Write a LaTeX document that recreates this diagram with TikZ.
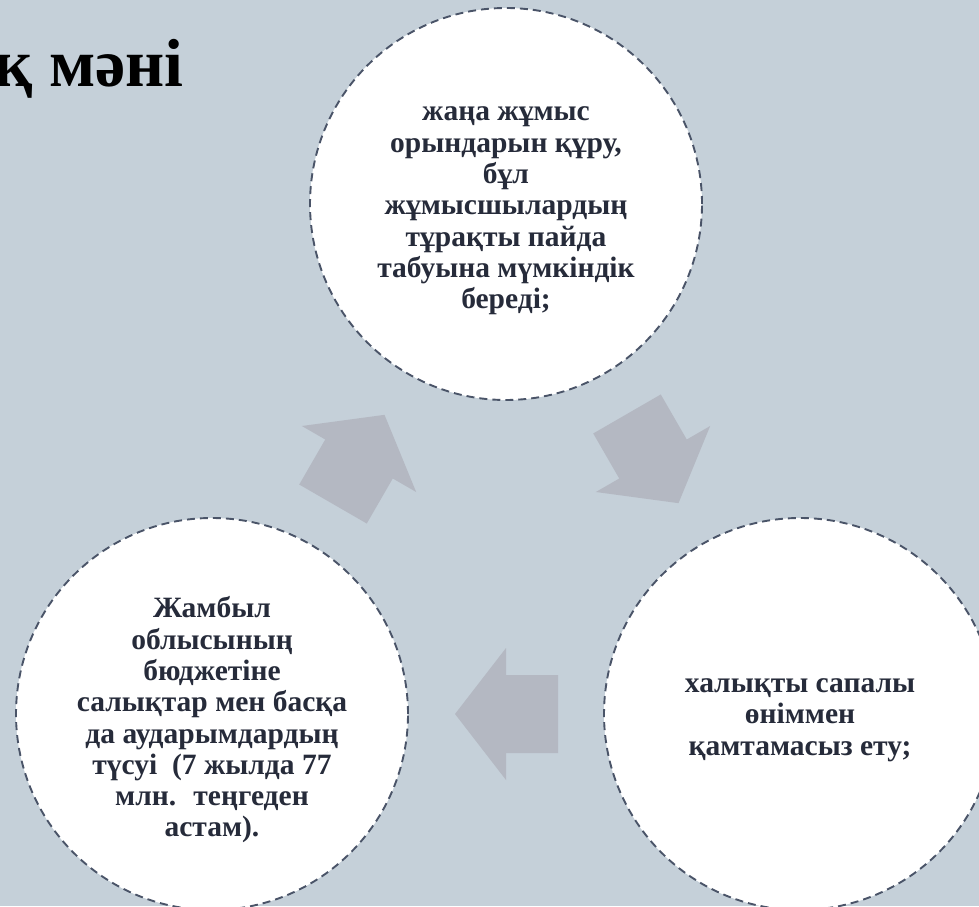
\documentclass[tikz,border=0pt]{standalone}
\usepackage{fontspec}
\setmainfont{Liberation Serif}
\usetikzlibrary{calc}
\definecolor{slidebg}{HTML}{C5D0D9}
\definecolor{arrowgray}{HTML}{B4B8C2}
\definecolor{rimgray}{HTML}{4A5468}
\definecolor{inkdark}{HTML}{262B3A}
\tikzset{
	bubble/.style={circle, draw=rimgray, line width=1.9pt, dash pattern=on 8pt off 5pt,
		fill=white, minimum size=392pt, inner sep=0pt},
	bubbletext/.style={align=center, text=inkdark, inner sep=0pt,
		font=\bfseries\fontsize{29.5}{31.3}\selectfont},
	blockarrow/.style={fill=arrowgray}
}
\begin{document}
\begin{tikzpicture}[x=1pt,y=1pt]
	\useasboundingbox (0,0) rectangle (979,906);
	\clip (0,0) rectangle (979,906);
	\fill[slidebg] (0,0) rectangle (979,906);
	\node[anchor=base east, inner sep=0pt, font=\bfseries\fontsize{68}{75}\selectfont] (title) at (184,819) {қ мәні};
	
	\begin{scope}
		\node[bubble, label={[bubbletext, yshift=-7pt]center:{жаңа жұмыс\\орындарын құру,\\бұл\\жұмысшылардың\\тұрақты пайда\\табуына мүмкіндік\\береді;}}] (jobs) at (506,702) {};
		\node[bubble, label={[bubbletext, yshift=-6pt]center:{халықты сапалы\\өніммен\\қамтамасыз ету;}}] (goods) at (800,192) {};
		\node[bubble, label={[bubbletext, yshift=-6pt]center:{Жамбыл\\облысының\\бюджетіне\\салықтар мен басқа\\да аударымдардың\\түсуі~ (7 жылда 77\\млн.~ теңгеден\\астам).}}] (budget) at (212,192) {};
	\end{scope}
	
	\begin{scope}[shift={($(budget)!.5!(jobs)$)}, rotate=60]
		\fill[blockarrow] (-52,-39) -- (0,-39) -- (0,-66) -- (51,0) -- (0,66) -- (0,39) -- (-52,39) -- cycle;
	\end{scope}
	\begin{scope}[shift={($(jobs)!.5!(goods)$)}, rotate=-60]
		\fill[blockarrow] (-52,-39) -- (0,-39) -- (0,-66) -- (51,0) -- (0,66) -- (0,39) -- (-52,39) -- cycle;
	\end{scope}
	\begin{scope}[shift={($(goods)!.5!(budget)$)}, rotate=180]
		\fill[blockarrow] (-52,-39) -- (0,-39) -- (0,-66) -- (51,0) -- (0,66) -- (0,39) -- (-52,39) -- cycle;
	\end{scope}
\end{tikzpicture}
\end{document}
